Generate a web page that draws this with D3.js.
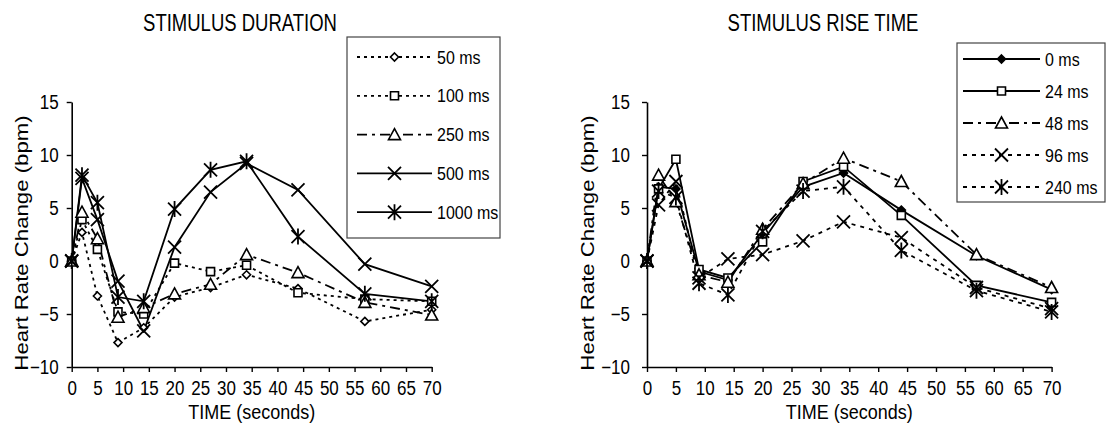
<!DOCTYPE html>
<html>
<head>
<meta charset="utf-8">
<script src="https://cdn.jsdelivr.net/npm/d3@7"></script>
<style>
  body { margin: 0; background: #fff; }
  text { font-family: "Liberation Sans", Arial, sans-serif; fill: #000; }
</style>
</head>
<body>
<svg id="chart" width="1110" height="434"></svg>
<script>
// time points (seconds), shared by both panels
const times = [0, 2, 5, 9, 14, 20, 27, 34, 44, 57, 70];
const xTicks = d3.range(0, 75, 5);
const yTicks = [-10, -5, 0, 5, 10, 15];

// left panel: stimulus duration
const durationLabels = ["50 ms", "100 ms", "250 ms", "500 ms", "1000 ms"];
const dur50 = [0, 2.7, -3.3, -7.7, -6.3, -3.4, -2.5, -1.3, -2.6, -5.7, -4.6];
const dur100 = [0, 3.9, 1.1, -4.8, -5.0, -0.2, -1.0, -0.4, -3.0, -3.6, -3.8];
const dur250 = [0, 4.6, 2.1, -5.3, -4.4, -3.1, -2.2, 0.6, -1.1, -3.9, -5.1];
const dur500 = [0, 7.8, 3.9, -1.9, -6.6, 1.3, 6.5, 9.2, 6.7, -0.3, -2.4];
const dur1000 = [0, 8.1, 5.5, -3.4, -3.8, 4.9, 8.6, 9.4, 2.3, -3.1, -3.8];

// right panel: stimulus rise time
const riseLabels = ["0 ms", "24 ms", "48 ms", "96 ms", "240 ms"];
const rise0 = [0, 7.0, 6.8, -1.0, -1.8, 2.6, 7.0, 8.3, 4.8, 0.5, -2.7];
const rise24 = [0, 6.8, 9.6, -0.8, -1.6, 1.8, 7.5, 8.9, 4.3, -2.3, -3.9];
const rise48 = [0, 8.1, 5.6, -1.3, -2.0, 3.0, 7.3, 9.7, 7.5, 0.6, -2.5];
const rise96 = [0, 5.3, 7.5, -1.6, 0.2, 0.6, 1.9, 3.7, 2.2, -2.5, -4.5];
const rise240 = [0, 6.6, 6.0, -2.1, -3.2, 2.8, 6.6, 7.0, 1.0, -2.8, -4.8];

const DOT = "3,4";
const DASHDOT = "10,5,3,5";

const svg = d3.select("#chart");
svg.append("rect").attr("width", 1110).attr("height", 434).attr("fill", "#fff");

// marker shapes, centred on 0,0
const shapes = {
    diamond: "M0,-4L4,0L0,4L-4,0Z",
    square: "M-4,-4H4V4H-4Z",
    triangle: "M0,-6L6,5H-6Z",
    cross: "M-6.5,-6.5L6.5,6.5M-6.5,6.5L6.5,-6.5",
    star: "M-6.5,-6.5L6.5,6.5M-6.5,6.5L6.5,-6.5M0,-8V8"
};

function drawMarker(g, shape, filled) {
    g.append("path")
        .attr("d", shapes[shape])
        .attr("fill", filled ? "#000" : "#fff")
        .attr("stroke", "#000")
        .attr("stroke-width", shape == "cross" || shape == "star" ? 1.8 : 1.6);
}

// the source picture is a little stretched vertically, so text is too
function label(g, x, y, txt, size, sy, anchor) {
    return g.append("text")
        .attr("transform", `translate(${x},${y}) scale(1,${sy})`)
        .attr("text-anchor", anchor || "start")
        .style("font-size", size + "px")
        .text(txt);
}

function drawPanel(opts) {
    const x = d3.scaleLinear().domain([0, 70]).range(opts.xRange);
    const y = d3.scaleLinear().domain([-10, 15]).range([367, 102]);
    const g = svg.append("g");

    // axes
    const yAxis = g.append("g")
        .attr("transform", `translate(${opts.xRange[0]},0)`)
        .call(d3.axisLeft(y).tickValues(yTicks).tickSize(5).tickSizeOuter(0).tickPadding(opts.yPad));
    const xAxis = g.append("g")
        .attr("transform", `translate(0,${y(-10)})`)
        .call(d3.axisBottom(x).tickValues(xTicks).tickSize(5).tickSizeOuter(0).tickPadding(7));
    [xAxis, yAxis].forEach(a => {
        a.select(".domain").attr("stroke-width", 1.6);
        a.selectAll(".tick line").attr("stroke-width", 1.4);
        a.selectAll(".tick text")
            .style("font-size", "17px")
            .attr("font-family", null)
            .attr("transform", "scale(1,1.15)");
    });

    // series lines and markers
    const line = d3.line().x((d, i) => x(times[i])).y(d => y(d));
    opts.series.forEach(s => {
        g.append("path")
            .datum(s.values)
            .attr("d", line)
            .attr("fill", "none")
            .attr("stroke", "#000")
            .attr("stroke-width", 1.8)
            .attr("stroke-dasharray", s.dash);
    });
    opts.series.forEach(s => {
        s.values.forEach((v, i) => {
            const m = g.append("g").attr("transform", `translate(${x(times[i])},${y(v)})`);
            drawMarker(m, s.shape, s.filled);
        });
    });

    // legend
    const lg = opts.legend;
    g.append("rect")
        .attr("x", lg.x).attr("y", lg.y).attr("width", lg.w).attr("height", lg.h)
        .attr("fill", "#fff").attr("stroke", "#444").attr("stroke-width", 1.2);
    opts.series.forEach((s, i) => {
        const cy = lg.first + i * lg.step;
        g.append("line")
            .attr("x1", lg.x1).attr("x2", lg.x2).attr("y1", cy).attr("y2", cy)
            .attr("stroke", "#000").attr("stroke-width", 1.8)
            .attr("stroke-dasharray", s.dash);
        drawMarker(g.append("g").attr("transform", `translate(${(lg.x1 + lg.x2) / 2},${cy})`), s.shape, s.filled);
        label(g, lg.x2 + 5, cy + 6.5, s.label, 16, 1.15);
    });

    // titles
    label(g, opts.titleX, 31, opts.title, 18.5, 1.25, "middle");
    label(g, (opts.xRange[0] + opts.xRange[1]) / 2, 419, "TIME (seconds)", 18, 1.15, "middle");
    g.append("text")
        .attr("transform", `translate(${opts.yLabelX},${243}) rotate(-90) scale(1.2,1)`)
        .attr("text-anchor", "middle")
        .style("font-size", "18.5px")
        .text("Heart Rate Change (bpm)");
}

drawPanel({
    title: "STIMULUS DURATION",
    titleX: 240,
    xRange: [71.7, 431.7],
    yPad: 8,
    yLabelX: 28,
    series: [
        {label: durationLabels[0], values: dur50, shape: "diamond", dash: DOT},
        {label: durationLabels[1], values: dur100, shape: "square", dash: DOT},
        {label: durationLabels[2], values: dur250, shape: "triangle", dash: DASHDOT},
        {label: durationLabels[3], values: dur500, shape: "cross", dash: null},
        {label: durationLabels[4], values: dur1000, shape: "star", dash: null}
    ],
    legend: {x: 347, y: 37, w: 153, h: 201, first: 57, step: 38.8, x1: 357, x2: 432}
});

drawPanel({
    title: "STIMULUS RISE TIME",
    titleX: 823,
    xRange: [647, 1051.6],
    yPad: 12,
    yLabelX: 594,
    series: [
        {label: riseLabels[0], values: rise0, shape: "diamond", filled: true, dash: null},
        {label: riseLabels[1], values: rise24, shape: "square", dash: null},
        {label: riseLabels[2], values: rise48, shape: "triangle", dash: DASHDOT},
        {label: riseLabels[3], values: rise96, shape: "cross", dash: "4,5"},
        {label: riseLabels[4], values: rise240, shape: "star", dash: "4,5"}
    ],
    legend: {x: 957, y: 43, w: 148, h: 159, first: 59, step: 32, x1: 963, x2: 1040}
});
</script>
</body>
</html>
